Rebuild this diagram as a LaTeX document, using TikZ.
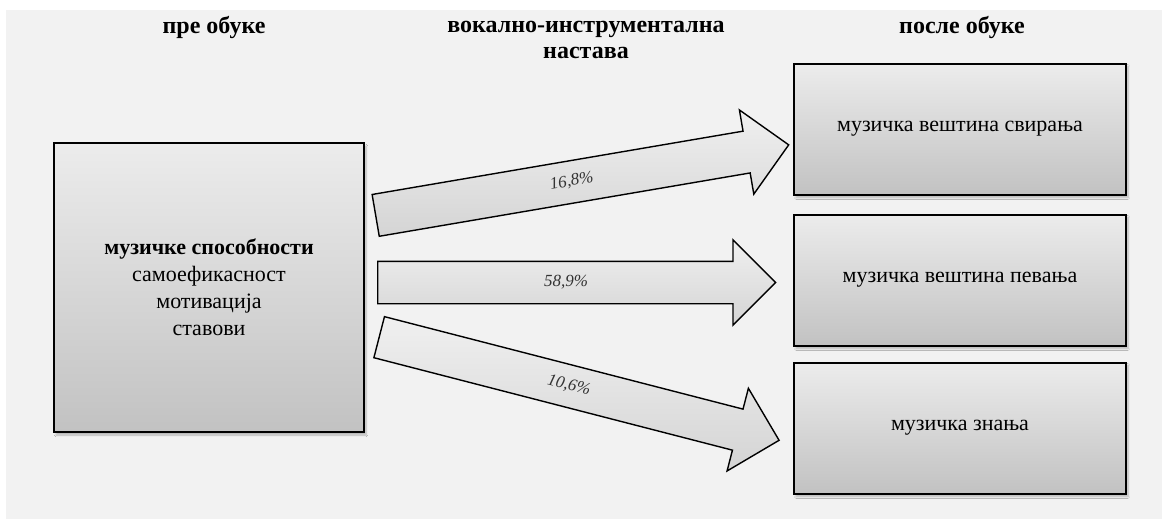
\documentclass[tikz,border=0pt]{standalone}
\usepackage{fontspec}
\setmainfont{Liberation Serif}
\usepackage{tikz}
\usetikzlibrary{shapes.arrows,shadows.blur,positioning}
\definecolor{bggray}{HTML}{F2F2F2}
\definecolor{shadetop}{HTML}{ECECEC}
\definecolor{shadebot}{HTML}{C2C2C2}
\tikzstyle{box}    =[draw, line width=2pt, top color=shadetop,
                     bottom color=shadebot, align=center,
                     font=\fontsize{22}{27}\selectfont,
                     blur shadow={shadow xshift=2pt, shadow yshift=-3pt,
                     shadow opacity=25, shadow blur steps=6}]
\tikzstyle{heading}=[font=\fontsize{24}{26}\selectfont\bfseries,
                     align=center]
\tikzstyle{flow}   =[single arrow, draw, line width=1.4pt,
                     top color=shadetop!80!white, bottom color=shadebot!70!white,
                     single arrow head extend=21.5pt,
                     text height=12pt, text depth=4pt,
                     inner xsep=2pt, inner ysep=12.5pt, anchor=tail, text=black!80,
                     font=\fontsize{17}{17}\selectfont\itshape]

\begin{document}
\begin{tikzpicture}[x=1pt, y=-1pt]
    \useasboundingbox (0,0) rectangle (1162,522);
    \fill[bggray] (6,10) rectangle (1162,519);

    \node[heading] (pre)    at (214,27) {пре обуке};
    \node[heading] (course) at (586,40) {вокално-инструментална\\настава};
    \node[heading] (post)   at (962,27) {после обуке};

    \node[box, minimum width=310pt, minimum height=289pt] (before) at (209,287.5)
        {\textbf{музичке способности}\\самоефикасност\\мотивација\\ставови};

    \foreach \n/\y/\t in {play/129/музичка вештина свирања,
                          sing/280/музичка вештина певања,
                          know/428/музичка знања}
        \node[box, minimum width=332pt, minimum height=131pt] (\n) at (960,\y) {\t};

    \foreach \n/\x/\y/\a/\l/\p in {toplay/375/215.5/9.69/419/{16,8\%},
                                   tosing/377/282.5/0/398/{58,9\%},
                                   toknow/378.5/337/-14.46/413/{10,6\%}}
        \node[flow, minimum height=\l pt, rotate=\a] (\n) at (\x,\y) {\p};
\end{tikzpicture}
\end{document}
